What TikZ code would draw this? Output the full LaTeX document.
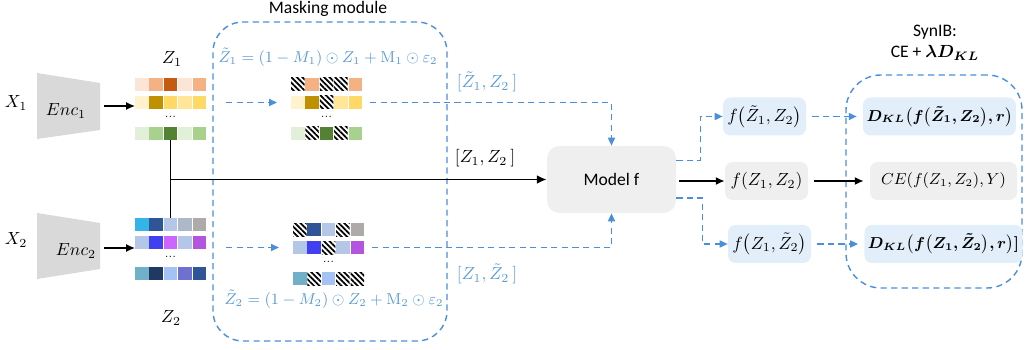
\documentclass[tikz,border=0pt]{standalone}
\usepackage{amsmath,bm}
\usepackage[no-math]{fontspec}
\newfontfamily\calibri{Carlito}
\usetikzlibrary{arrows.meta,patterns.meta}

% feature colours
\definecolor{peach}{HTML}{FBE5D6}
\definecolor{salmon}{HTML}{F4B183}
\definecolor{rust}{HTML}{C55A11}
\definecolor{cream}{HTML}{FFF2CC}
\definecolor{mustard}{HTML}{BF9000}
\definecolor{gold}{HTML}{FFD966}
\definecolor{butter}{HTML}{FFE699}
\definecolor{mint}{HTML}{E2F0D9}
\definecolor{leaf}{HTML}{A9D18E}
\definecolor{moss}{HTML}{548235}
\definecolor{sky}{HTML}{33B5E8}
\definecolor{navy}{HTML}{2F5597}
\definecolor{pale}{HTML}{B4C7E7}
\definecolor{slate}{HTML}{ADB9CA}
\definecolor{stone}{HTML}{AEAAAA}
\definecolor{royal}{HTML}{4040F0}
\definecolor{orchid}{HTML}{CC66FF}
\definecolor{violet}{HTML}{B455E0}
\definecolor{teal}{HTML}{70B0C8}
\definecolor{ink}{HTML}{1F3864}
\definecolor{periw}{HTML}{A4C2F4}
\definecolor{iris}{HTML}{7070D0}
% diagram colours
\definecolor{dashblue}{HTML}{4A8FDB}
\definecolor{eqblue}{HTML}{5B9BD5}
\definecolor{boxgray}{HTML}{EFEFEF}
\definecolor{boxblue}{HTML}{E2EEFA}
\definecolor{encgray}{HTML}{D9D9D9}

\tikzset{
  cell/.style={minimum width=0.27cm, minimum height=0.26cm, inner sep=0pt, outer sep=0pt},
  cellfill/.code={\edef\cellc{#1}\def\cellh{h}%
    \ifx\cellc\cellh\pgfkeysalso{/tikz/pattern={Lines[angle=-45,distance=2.2pt,line width=1pt]}}%
    \else\pgfkeysalso{/tikz/fill=#1}\fi},
  dots/.style={font=\fontsize{6}{6}\selectfont, inner sep=0pt},
  arr/.style={-{Latex[length=5pt,width=4.5pt]}, line width=0.75pt},
  thickarr/.style={-{Latex[length=5.5pt,width=5pt]}, line width=1.1pt},
  dashline/.style={dashblue, line width=0.8pt, dash pattern=on 3.5pt off 2.5pt},
  dasharr/.style={dashline, -{Triangle[length=4.5pt,width=4pt]}},
  dashbox/.style={draw, dashline, inner sep=0pt},
  eq/.style={text=eqblue, inner sep=1pt},
  fbox/.style={rounded corners=0.15cm, minimum height=0.76cm, inner sep=2pt},
  graybox/.style={fbox, fill=boxgray},
  bluebox/.style={fbox, fill=boxblue},
}

% one row of five feature cells: name, first x, y, colours (h = masked)
\newcommand{\zrow}[4]{%
  \foreach \col [count=\i] in {#4}
    \node[cell, cellfill=\col] (#1-\i) at ({#2+(\i-1)*0.288},#3) {};
}

\begin{document}
\begin{tikzpicture}
  \useasboundingbox (0,0) rectangle (20.54,6.98);

  % Encoders
  \fill[encgray] (0.74,5.52) -- (2.00,5.32) -- (2.00,4.38) -- (0.74,4.20) -- cycle;
  \fill[encgray] (0.74,2.72) -- (2.00,2.52) -- (2.00,1.60) -- (0.74,1.40) -- cycle;
  \node (enc1) at (1.32,4.76) {$Enc_1$};
  \node (enc2) at (1.52,1.96) {$Enc_2$};
  \node (x1) at (0.32,4.92) {$X_1$};
  \node (x2) at (0.32,2.18) {$X_2$};
  \coordinate (enc1-out) at (2.08,4.86);
  \coordinate (enc2-out) at (2.08,2.02);

  % Features Z_1, Z_2
  \zrow{z1a}{2.835}{5.29}{peach,salmon,rust,peach,salmon}
  \zrow{z1b}{2.835}{4.93}{cream,mustard,gold,butter,gold}
  \zrow{z1c}{2.835}{4.31}{mint,leaf,moss,mint,leaf}
  \node[dots] (z1dots) at (3.41,4.64) {...};
  \node (z1lab) at (3.44,5.80) {$Z_1$};

  \zrow{z2a}{2.835}{2.49}{sky,navy,pale,slate,stone}
  \zrow{z2b}{2.835}{2.13}{pale,royal,orchid,pale,violet}
  \zrow{z2c}{2.835}{1.51}{teal,ink,periw,iris,navy}
  \node[dots] (z2dots) at (3.41,1.84) {...};
  \node (z2lab) at (3.42,0.62) {$Z_2$};

  \draw[arr] (enc1-out) -- (enc1-out -| z1b-1.west);
  \draw[arr] (enc2-out) -- (enc2-out -| z2b-1.west);

  % Masking module
  \node[dashbox, rounded corners=0.6cm, minimum width=4.68cm, minimum height=6.38cm]
    (mask) at (6.60,3.35) {};
  \node (masklab) at (6.56,6.80) {\calibri Masking module};
  \node[eq] (eq1) at (6.56,5.84) {\small$\tilde{Z}_1 = (1-M_1)\odot Z_1 + \mathrm{M}_1 \odot \varepsilon_2$};
  \node[eq] (eq2) at (6.68,1.00) {\small$\tilde{Z}_2 = (1-M_2)\odot Z_2 + \mathrm{M}_2 \odot \varepsilon_2$};

  \zrow{m1a}{5.955}{5.29}{h,salmon,h,h,salmon}
  \zrow{m1b}{5.955}{4.93}{cream,mustard,h,butter,gold}
  \zrow{m1c}{5.955}{4.31}{mint,h,moss,h,leaf}
  \node[dots] (m1dots) at (6.53,4.64) {...};

  \zrow{m2a}{5.995}{2.39}{h,navy,pale,h,stone}
  \zrow{m2b}{5.995}{2.03}{pale,royal,h,pale,violet}
  \zrow{m2c}{5.995}{1.41}{teal,h,periw,h,h}
  \node[dots] (m2dots) at (6.57,1.74) {...};

  \draw[dasharr, shorten <=0.4cm, shorten >=0.28cm] (z1b-5.east) -- (m1b-1.west);
  \draw[dasharr, shorten <=0.4cm, shorten >=0.28cm] (z2b-5.east |- m2b-1.west) -- (m2b-1.west);

  % Model f and its inputs
  \node[fill=boxgray, rounded corners=0.25cm, minimum width=2.58cm, minimum height=1.34cm]
    (model) at (12.23,3.39) {\calibri Model f};

  \draw[line width=0.7pt] (z1c-3.south) -- (z2a-3.north);
  \draw[thickarr] (z1c-3.south |- model.west) -- (model.west);
  \draw[dasharr, shorten <=0.16cm] (m1b-5.east) -| (model.north);
  \draw[dasharr, shorten <=0.16cm] (m2b-5.east) -| (model.south);

  \node (lab-full) at (9.70,3.82) {$[Z_1, Z_2\,]$};
  \node[eq] (lab-m1) at (9.74,5.34) {$[\tilde{Z}_1, Z_2\,]$};
  \node[eq] (lab-m2) at (9.74,1.50) {$[Z_1, \tilde{Z}_2\,]$};

  % Outputs of f
  \node[bluebox, minimum width=1.66cm] (fa) at (15.29,4.65) {$f\bigl(\tilde{Z}_1, Z_2\bigr)$};
  \node[graybox, minimum width=1.66cm] (fb) at (15.33,3.36) {$f(Z_1, Z_2)$};
  \node[bluebox, minimum width=1.66cm] (fc) at (15.39,2.10) {$f\bigl(Z_1, \tilde{Z}_2\bigr)$};

  \draw[dasharr] ([yshift=0.38cm]model.east) -- ++(0.48,0) |- (fa.west);
  \draw[arr, shorten <=0.06cm] (model.east |- fb.west) -- (fb.west);
  \draw[dasharr] ([yshift=-0.37cm]model.east) -- ++(0.52,0) |- (fc.west);

  % SynIB objective
  \node[dashbox, rounded corners=0.7cm, minimum width=3.52cm, minimum height=4.26cm]
    (synib) at (18.68,3.35) {};
  \node[align=center] (synlab) at (18.70,6.13) {\calibri SynIB:\\ \calibri CE + $\bm{\lambda D_{KL}}$};

  \node[bluebox, minimum width=2.94cm] (da) at (18.79,4.65)
    {\small$\bm{D_{KL}\bigl(f\bigl(\tilde{Z}_1, Z_2\bigr), r\bigr)}$};
  \node[graybox, minimum width=2.94cm] (ce) at (18.87,3.36) {\small$CE(f(Z_1,Z_2),Y)$};
  \node[bluebox, minimum width=2.94cm] (db) at (18.87,2.10)
    {\small$\bm{D_{KL}\bigl(f\bigl(Z_1,\tilde{Z}_2\bigr), r\bigr)]}$};

  \draw[dasharr, shorten <=0.12cm, shorten >=0.12cm] (fa.east) -- (da.west);
  \draw[arr, shorten <=0.12cm, shorten >=0.12cm] (fb.east) -- (ce.west);
  \draw[dasharr, shorten <=0.12cm, shorten >=0.12cm] (fc.east) -- (db.west);
\end{tikzpicture}
\end{document}
